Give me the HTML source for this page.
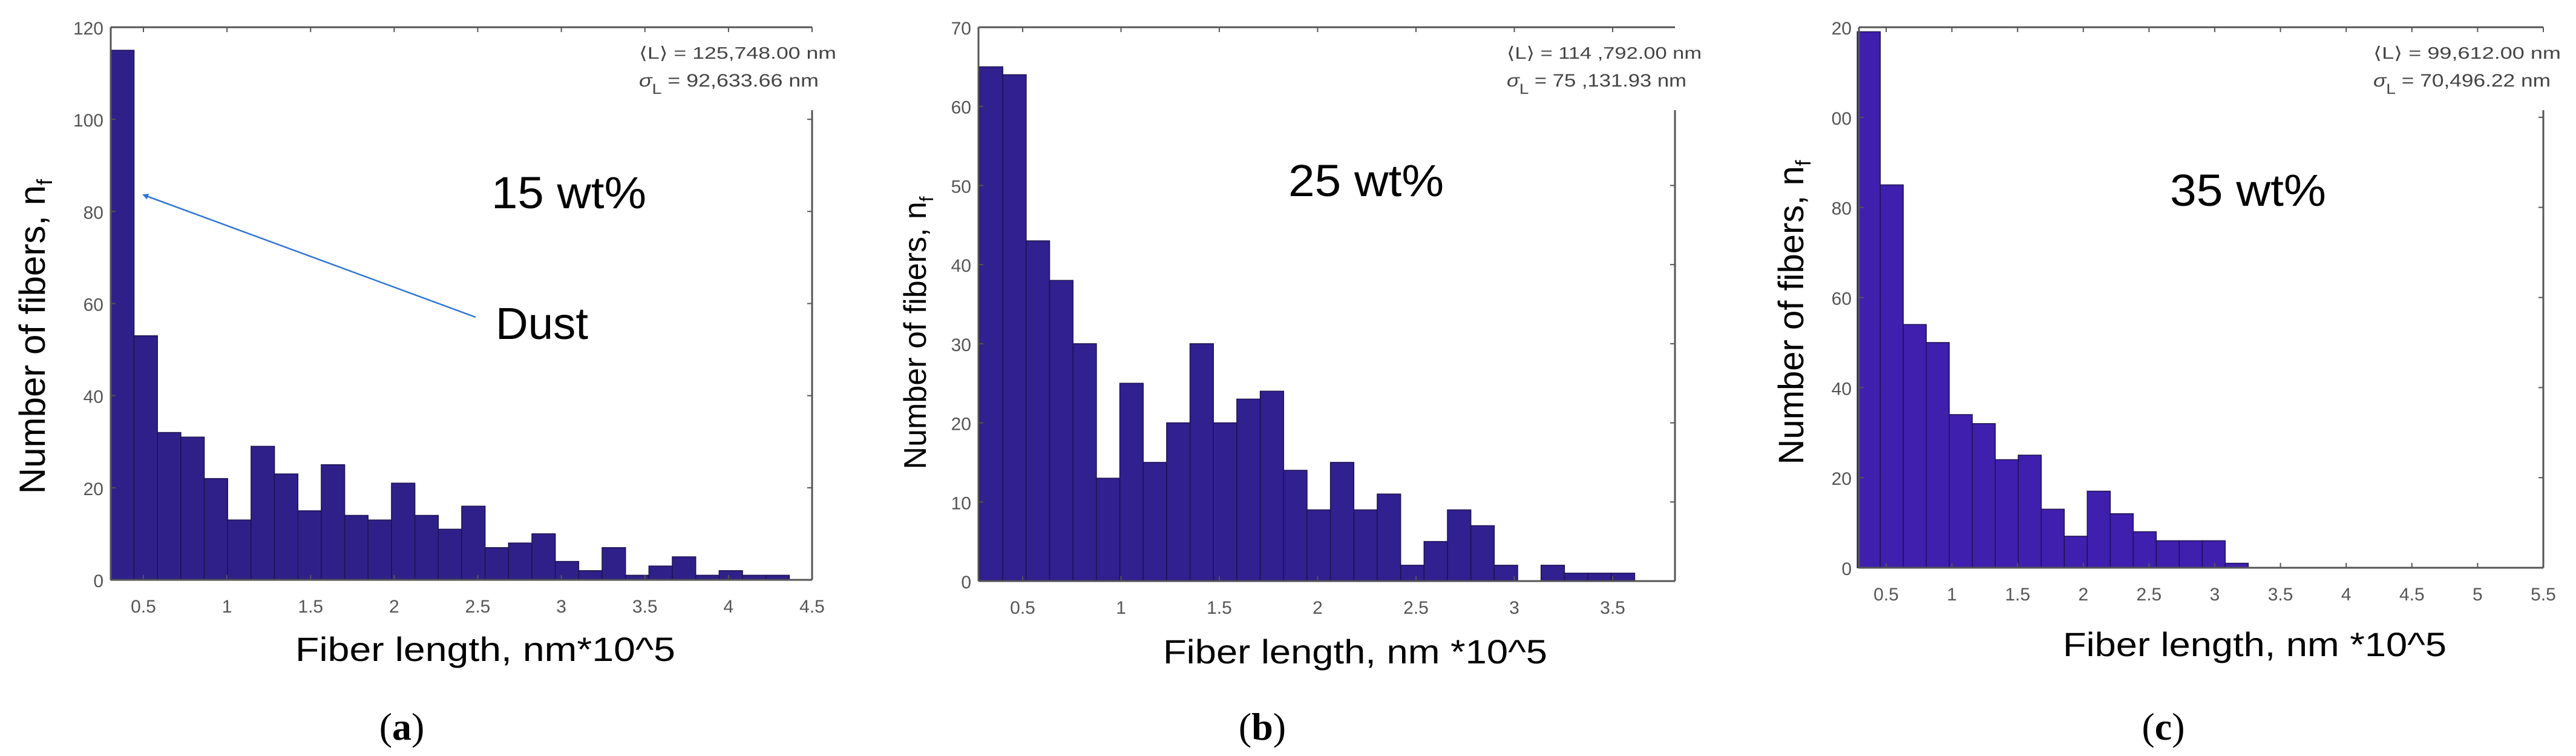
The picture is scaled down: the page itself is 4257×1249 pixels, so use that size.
<!DOCTYPE html>
<html><head><meta charset="utf-8">
<style>
html,body{margin:0;padding:0;background:#fff;}
svg{display:block;}
</style></head>
<body>
<svg id="fig" width="4257" height="1249" viewBox="0 0 4257 1249" xmlns="http://www.w3.org/2000/svg">
<defs>
<marker id="ah" markerWidth="10" markerHeight="10" refX="8" refY="5" orient="auto" markerUnits="userSpaceOnUse">
<path d="M0,0 L10,5 L0,10 z" fill="#2f75d6"/>
</marker>
</defs>
<g id="panels"></g>
</svg>
<script>
// ---- data ----
const countsA = [115,53,32,31,22,13,29,23,15,25,14,13,21,14,11,16,7,8,10,4,2,7,1,3,5,1,2,1,1];
const countsB = [65,64,43,38,30,13,25,15,20,30,20,23,24,14,9,15,9,11,2,5,9,7,2,0,2,1,1,1];
const countsC = [119,85,54,50,34,32,24,25,13,7,17,12,8,6,6,6,1,0,0,0,0,0,0,0,0,0,0,0,0];
const binStartA = 0.304, binWidthA = 0.140;
const binStartB = 0.28, binWidthB = 0.119;
const binStartC = 0.28, binWidthC = 0.175;
const xTicksA = [0.5,1,1.5,2,2.5,3,3.5,4,4.5];
const xTickLabelsA = ["0.5","1","1.5","2","2.5","3","3.5","4","4.5"];
const xTicksB = [0.5,1,1.5,2,2.5,3,3.5];
const xTickLabelsB = ["0.5","1","1.5","2","2.5","3","3.5"];
const xTicksC = [0.5,1,1.5,2,2.5,3,3.5,4,4.5,5,5.5];
const xTickLabelsC = ["0.5","1","1.5","2","2.5","3","3.5","4","4.5","5","5.5"];
const yTicksA = [0,20,40,60,80,100,120];
const yTickLabelsA = ["0","20","40","60","80","100","120"];
const yTicksB = [0,10,20,30,40,50,60,70];
const yTickLabelsB = ["0","10","20","30","40","50","60","70"];
const yTicksC = [0,20,40,60,80,100,120];
const yTickLabelsC = ["0","20","40","60","80","00","20"];

const NS = "http://www.w3.org/2000/svg";
const root = document.getElementById('panels');
function mk(tag, attrs, parent){
  const e = document.createElementNS(NS, tag);
  for (const k in attrs) e.setAttribute(k, attrs[k]);
  (parent||root).appendChild(e);
  return e;
}

function panel(cfg){
  const g = mk('g', {});
  
  
  const L = cfg.left, R = cfg.right, T = 45, B = cfg.bottom;
  const sx = v => cfg.x05 + (v - 0.5) * cfg.pxPerUnit;
  const sy = v => B - (v / cfg.yMax) * (B - T);
  const bars = mk('g', {}, g);
  
  
  cfg.counts.forEach((c, i) => {
    const x0 = sx(cfg.binStart + i * cfg.binWidth), x1 = sx(cfg.binStart + (i + 1) * cfg.binWidth);
    const r = mk('rect', {x: x0, y: sy(c), width: x1 - x0, height: B - sy(c), fill: cfg.fill, stroke: '#1c1250', 'stroke-width': 1.5}, bars);
    
    
  });
  const ax = mk('g', {stroke: '#555', 'stroke-width': 3, fill: 'none'}, g);
  
  
  mk('line', {x1: L, y1: T, x2: R, y2: T}, ax);
  mk('line', {x1: L, y1: T, x2: L, y2: B}, ax);
  mk('line', {x1: L, y1: B, x2: R, y2: B}, ax);
  mk('line', {x1: R, y1: 182, x2: R, y2: B}, ax);
  cfg.xTicks.forEach((v, i) => {
    const x = sx(v);
    mk('line', {x1: x, y1: T, x2: x, y2: T + 8, stroke: '#555', 'stroke-width': 2}, g);
    mk('line', {x1: x, y1: B, x2: x, y2: B - 8, stroke: '#555', 'stroke-width': 2}, g);
    const t = mk('text', {x: x, y: B + 54, 'text-anchor': 'middle', 'font-family': 'Liberation Sans, Arial, sans-serif', 'font-size': 30, fill: '#555'}, g);
    t.textContent = cfg.xLabels[i];
    
    
  });
  cfg.yTicks.forEach((v, i) => {
    const y = sy(v);
    mk('line', {x1: L, y1: y, x2: L + 8, y2: y, stroke: '#555', 'stroke-width': 2}, g);
    if (y > 185) mk('line', {x1: R, y1: y, x2: R - 8, y2: y, stroke: '#555', 'stroke-width': 2}, g);
    const t = mk('text', {x: L - 12, y: y + 12, 'text-anchor': 'end', 'font-family': 'Liberation Sans, Arial, sans-serif', 'font-size': 30, fill: '#555'}, g);
    t.textContent = cfg.yLabels[i];
    
    
  });
  const s1 = mk('text', {x: cfg.statX, y: 97, 'font-family': 'Liberation Sans, Arial, sans-serif', 'font-size': 28, fill: '#444', textLength: cfg.statW1, lengthAdjust: 'spacingAndGlyphs'}, g);
  s1.textContent = '\u27E8L\u27E9 = ' + cfg.mean + ' nm';
  
  
  const s2 = mk('text', {x: cfg.statX, y: 143, 'font-family': 'Liberation Sans, Arial, sans-serif', 'font-size': 30, fill: '#444', textLength: cfg.statW2, lengthAdjust: 'spacingAndGlyphs'}, g);
  
  
  const sig = mk('tspan', {'font-style': 'italic'}, s2); sig.textContent = '\u03C3';
  const sub = mk('tspan', {dy: 12, 'font-size': 24}, s2); sub.textContent = 'L';
  const rest = mk('tspan', {dy: -12}, s2); rest.textContent = ' = ' + cfg.sd + ' nm';
  const w = mk('text', {x: cfg.wtX, y: cfg.wtY, 'font-family': 'Liberation Sans, Arial, sans-serif', 'font-size': 74, fill: '#000', textLength: cfg.wtW, lengthAdjust: 'spacingAndGlyphs'}, g);
  w.textContent = cfg.wt;
  
  
  const yt = mk('text', {x: 0, y: 0, transform: 'translate(' + cfg.ytX + ',' + cfg.ytY + ') rotate(-90)', 'text-anchor': 'middle', 'font-family': 'Liberation Sans, Arial, sans-serif', 'font-size': cfg.ytSize, fill: '#000'}, g);
  
  
  const y1 = mk('tspan', {}, yt); y1.textContent = 'Number of fibers, n';
  const y2 = mk('tspan', {dy: 12, 'font-size': cfg.ytSize * 0.6}, yt); y2.textContent = 'f';
  const xt = mk('text', {x: cfg.xtX, y: cfg.xtY, 'font-family': 'Liberation Sans, Arial, sans-serif', 'font-size': 56, fill: '#000', textLength: cfg.xtW, lengthAdjust: 'spacingAndGlyphs'}, g);
  xt.textContent = cfg.xt;
  
  
  const pl = mk('text', {x: cfg.plX, y: 1222, 'text-anchor': 'middle', 'font-family': 'Liberation Serif, serif', 'font-size': 64, fill: '#000'}, g);
  
  
  const p1 = mk('tspan', {}, pl); p1.textContent = '(';
  const p2 = mk('tspan', {'font-weight': 'bold'}, pl); p2.textContent = cfg.id;
  const p3 = mk('tspan', {}, pl); p3.textContent = ')';
  return g;
}

panel({id: 'a', left: 183, right: 1342, bottom: 958, x05: 237, pxPerUnit: 276.25, yMax: 120,
  counts: countsA, binStart: binStartA, binWidth: binWidthA, fill: '#2f2089',
  xTicks: xTicksA, xLabels: xTickLabelsA, yTicks: yTicksA, yLabels: yTickLabelsA,
  statX: 1056, statW1: 326, statW2: 297, mean: '125,748.00', sd: '92,633.66',
  wt: '15 wt%', wtX: 812, wtY: 344, wtW: 256,
  ytX: 74, ytY: 556, ytSize: 60, xt: 'Fiber length,  nm*10^5', xtX: 488, xtY: 1092, xtW: 628, plX: 664});

panel({id: 'b', left: 1617, right: 2768, bottom: 960, x05: 1690, pxPerUnit: 325, yMax: 70,
  counts: countsB, binStart: binStartB, binWidth: binWidthB, fill: '#31208f',
  xTicks: xTicksB, xLabels: xTickLabelsB, yTicks: yTicksB, yLabels: yTickLabelsB,
  statX: 2490, statW1: 322, statW2: 297, mean: '114 ,792.00', sd: '75 ,131.93',
  wt: '25 wt%', wtX: 2129, wtY: 324, wtW: 257,
  ytX: 1530, ytY: 550, ytSize: 52, xt: 'Fiber length,  nm *10^5', xtX: 1922, xtY: 1096, xtW: 635, plX: 2086});

panel({id: 'c', left: 3072, right: 4203, bottom: 938, x05: 3117, pxPerUnit: 217.2, yMax: 120,
  counts: countsC, binStart: binStartC, binWidth: binWidthC, fill: '#3f1fae',
  xTicks: xTicksC, xLabels: xTickLabelsC, yTicks: yTicksC, yLabels: yTickLabelsC,
  statX: 3922, statW1: 310, statW2: 293, mean: '99,612.00', sd: '70,496.22',
  wt: '35 wt%', wtX: 3586, wtY: 340, wtW: 258,
  ytX: 2980, ytY: 516, ytSize: 58, xt: 'Fiber length, nm *10^5', xtX: 3409, xtY: 1084, xtW: 634, plX: 3575});

const dust = mk('text', {x: 819, y: 560, 'font-family': 'Liberation Sans, Arial, sans-serif', 'font-size': 74, fill: '#000', textLength: 153, lengthAdjust: 'spacingAndGlyphs'});
dust.textContent = 'Dust';


const arrow = mk('line', {x1: 786, y1: 524, x2: 237, y2: 322, stroke: '#2f75d6', 'stroke-width': 2.5, 'marker-end': 'url(#ah)'});


</script>
</body></html>
